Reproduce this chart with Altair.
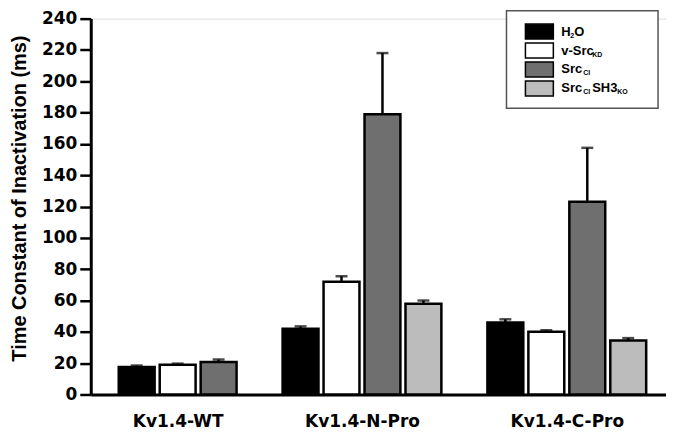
import altair as alt
import pandas as pd

groups = ["Kv1.4-WT", "Kv1.4-N-Pro", "Kv1.4-C-Pro"]
conditions = ["H2O", "v-SrcKD", "SrcCI", "SrcCISH3KO"]
colors = ["#000000", "#ffffff", "#6f6f6f", "#bcbcbc"]

wt_mean = [17.5, 19.0, 20.8]
wt_err = [1.0, 0.7, 1.5]
npro_mean = [42.0, 72.0, 179.0, 58.0]
npro_err = [1.5, 3.5, 39.0, 2.0]
cpro_mean = [46.0, 40.0, 123.0, 34.5]
cpro_err = [2.0, 1.0, 34.5, 1.5]

y_ticks = list(range(0, 241, 20))

# build table: one slot per bar, an empty slot between groups
rows = []
centers = []
slot = 0
for g, means, errs in zip(groups, [wt_mean, npro_mean, cpro_mean], [wt_err, npro_err, cpro_err]):
    start = slot
    for c, m, e in zip(conditions, means, errs):
        rows.append({"group": g, "cond": c, "slot": slot, "mean": m, "top": m + e})
        slot += 1
    centers.append((start + slot - 1) / 2)
    slot += 1
df = pd.DataFrame(rows)

label_expr = " : ".join(
    [f"datum.value == {c} ? '{g}'" for c, g in zip(centers[:-1], groups[:-1])]
) + f" : '{groups[-1]}'"

xscale = alt.Scale(domain=[-1, 12.8], nice=False, zero=False)
yscale = alt.Scale(domain=[0, 240], nice=False)

x_axis = alt.Axis(
    values=centers, labelExpr=label_expr, title=None, grid=False, ticks=False,
    domainWidth=3, domainColor="black", labelFont="DejaVu Sans", labelFontWeight="bold",
    labelFontSize=17, labelColor="black", labelPadding=19, labelAngle=0,
    labelOverlap=False, labelFlush=False,
)
y_axis = alt.Axis(
    values=y_ticks, tickCount=13, title="Time Constant of Inactivation (ms)", grid=False,
    domainWidth=3, domainColor="black", tickWidth=2.5, tickColor="black", tickSize=11,
    labelFont="DejaVu Sans", labelFontWeight="bold", labelFontSize=17, labelColor="black",
    labelPadding=3, labelOverlap=False, labelFlush=False,
    titleFont="Liberation Sans", titleFontWeight="bold", titleFontSize=20,
    titleColor="black", titleAngle=-90, titleX=-71, titleY=180, titleAlign="center",
    titleBaseline="middle",
)

X = alt.X("slot:Q", scale=xscale, axis=x_axis)
base = alt.Chart(df)

bars = base.mark_bar(size=36, stroke="black", strokeWidth=2.5).encode(
    x=X,
    y=alt.Y("mean:Q", scale=yscale, axis=y_axis),
    color=alt.Color("cond:N", scale=alt.Scale(domain=conditions, range=colors), legend=None),
)
rule = base.mark_rule(color="black", strokeWidth=2.5).encode(
    x=X,
    y=alt.Y("mean:Q", scale=yscale, axis=y_axis),
    y2="top:Q",
)
cap = base.mark_tick(color="black", orient="horizontal", size=12, thickness=2.5).encode(
    x=X,
    y=alt.Y("top:Q", scale=yscale, axis=y_axis),
)

# custom legend (pixel positions within the plot area)
one = alt.Data(values=[{"a": 1}])
LX, LY = 417, -8
layers = []
layers.append(
    alt.Chart(one).mark_rect(fill="white", stroke="#555555", strokeWidth=1.5).encode(
        x=alt.value(LX), x2=alt.value(LX + 152), y=alt.value(LY), y2=alt.value(LY + 98)
    )
)
sw_x = LX + 19
txt_x = LX + 55
legend_text = [
    [("H", 0, 13), ("2", 9, 7), ("O", 13, 13)],
    [("v-Src", 0, 13), ("KD", 31, 7)],
    [("Src", 0, 13), ("CI", 22, 7)],
    [("Src", 0, 13), ("CI", 22, 7), ("SH3", 31, 13), ("KO", 56, 7)],
]
for i, (col, parts) in enumerate(zip(colors, legend_text)):
    cy = LY + 21 + i * 19
    layers.append(
        alt.Chart(one).mark_rect(fill=col, stroke="black", strokeWidth=1.5).encode(
            x=alt.value(sw_x), x2=alt.value(sw_x + 28), y=alt.value(cy - 7.5), y2=alt.value(cy + 7.5)
        )
    )
    for text, dx, fs in parts:
        sub = fs < 10
        layers.append(
            alt.Chart(one).mark_text(
                text=text, font="Liberation Sans", fontWeight="bold", fontSize=fs,
                align="left", baseline="middle", color="black",
            ).encode(x=alt.value(txt_x + dx), y=alt.value(cy + (4 if sub else 0)))
        )

chart = alt.layer(bars, rule, cap, *layers).properties(
    width=577, height=377,
    autosize=alt.AutoSizeParams(type="none"),
    padding={"left": 83, "top": 10, "right": 0, "bottom": 45},
).configure_view(stroke=None).configure(background="white")

chart.save("out.html", embed_options={"renderer": "svg", "actions": False})
